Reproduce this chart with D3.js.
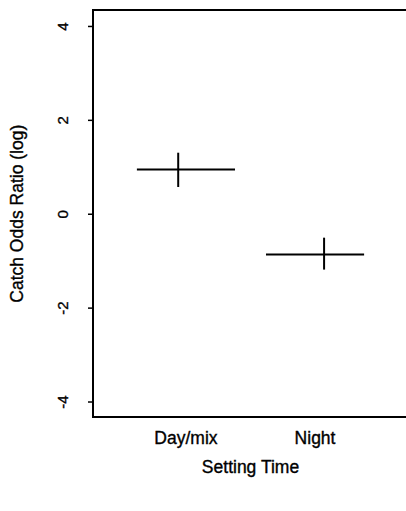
<!DOCTYPE html>
<html><head><meta charset="utf-8">
<script src="https://cdn.jsdelivr.net/npm/d3@7"></script>
<style>body{margin:0;background:#fff}svg{display:block}text{font-family:"Liberation Sans",Arial,sans-serif;fill:#000;stroke:#000;stroke-width:0.35px}</style>
</head><body><div id="chart"></div>
<script>
const categories = ["Day/mix", "Night"];
const estimates = [0.94, -0.87];
const ciLow = [0.57, -1.19];
const ciHigh = [1.30, -0.51];
const ciX = [0.94, 2.07];
const yTicks = [-4, -2, 0, 2, 4];
const xTitle = "Setting Time";
const yTitle = "Catch Odds Ratio (log)";

const W = 406, H = 511;
const svg = d3.select("#chart").append("svg").attr("width", W).attr("height", H);
const x = d3.scaleLinear().domain([0.28, 2.72]).range([93, 408]);
const y = d3.scaleLinear().domain([-4.33, 4.34]).range([417, 10]);

// box
svg.append("rect").attr("x", x.range()[0]).attr("y", y.range()[1])
  .attr("width", x.range()[1] - x.range()[0]).attr("height", y.range()[0] - y.range()[1])
  .attr("fill", "none").attr("stroke", "#000").attr("stroke-width", 2);

// y axis
const yAxis = d3.axisLeft(y).tickValues(yTicks).tickSize(5).tickFormat(d => String(d));
const gy = svg.append("g").attr("transform", `translate(${x.range()[0]},0)`).call(yAxis);
gy.select(".domain").remove();
gy.selectAll(".tick line").attr("stroke", "#000").attr("stroke-width", 1.5);
gy.selectAll(".tick text").attr("x", null).attr("dy", null)
  .attr("text-anchor", "middle").attr("transform", "translate(-30,0) rotate(-90)")
  .attr("dy", "0.36em").style("font-size", "15px").style("font-family", "Liberation Sans, Arial, sans-serif");

// x category labels
svg.selectAll("text.cat").data(categories).join("text").attr("class", "cat")
  .attr("x", (d, i) => x(i + 1)).attr("y", 444).attr("text-anchor", "middle")
  .style("font-size", "17.5px").text(d => d);

// titles
svg.append("text").attr("x", x(1.5)).attr("y", 473).attr("text-anchor", "middle")
  .style("font-size", "17.5px").text(xTitle);
svg.append("text").attr("transform", `translate(23,${y(0)}) rotate(-90)`).attr("text-anchor", "middle")
  .style("font-size", "17.5px").text(yTitle);

// marks
const g = svg.append("g");
g.selectAll("line.est").data(estimates).join("line").attr("class", "est")
  .attr("x1", (d, i) => x(i + 1 - 0.38)).attr("x2", (d, i) => x(i + 1 + 0.38))
  .attr("y1", d => y(d)).attr("y2", d => y(d)).attr("stroke", "#000").attr("stroke-width", 2);
g.selectAll("line.ci").data(estimates).join("line").attr("class", "ci")
  .attr("x1", (d, i) => x(ciX[i])).attr("x2", (d, i) => x(ciX[i]))
  .attr("y1", (d, i) => y(ciLow[i])).attr("y2", (d, i) => y(ciHigh[i]))
  .attr("stroke", "#000").attr("stroke-width", 2);
</script></body></html>
